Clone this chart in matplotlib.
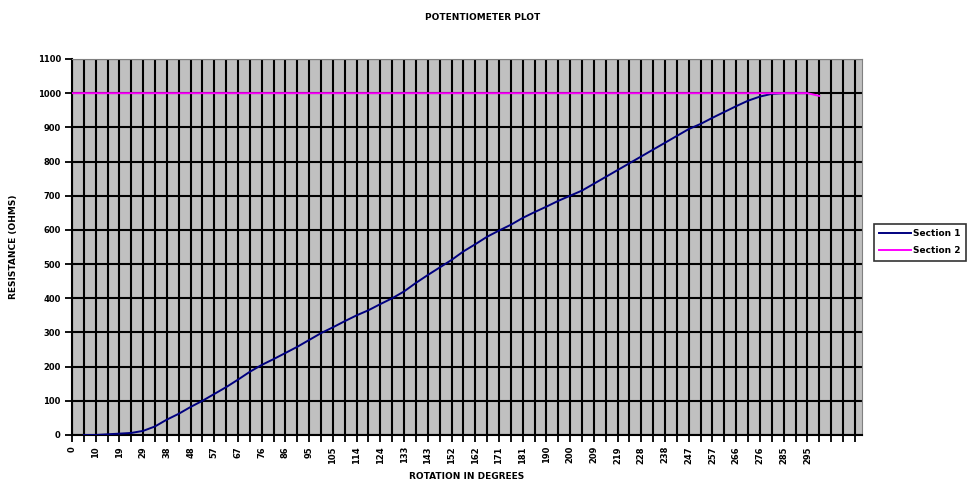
import matplotlib
matplotlib.use('Agg')
import matplotlib.pyplot as plt

# category labels shown on every second tick (degrees)
tick_labels = ['0', '10', '19', '29', '38', '48', '57', '67', '76', '86', '95',
               '105', '114', '124', '133', '143', '152', '162', '171', '181',
               '190', '200', '209', '219', '228', '238', '247', '257', '266',
               '276', '285', '295']
n_categories = 67

# Section 1 starts at category 1
section1 = [0, 0, 2, 4, 6, 12, 25, 45, 62, 82,
            100, 120, 140, 162, 185, 205, 222, 240, 258, 278,
            298, 315, 333, 350, 365, 383, 400, 420, 445, 468,
            490, 512, 537, 558, 580, 598, 615, 635, 652, 668,
            685, 700, 715, 735, 755, 775, 795, 815, 835, 855,
            875, 895, 910, 928, 945, 962, 978, 990, 998, 1000,
            1000, 1000]
# Section 2 starts at category 0
section2 = [1000] * 63 + [992]

x1 = list(range(1, 1 + len(section1)))
x2 = list(range(len(section2)))

fig = plt.figure(figsize=(9.71, 4.87), dpi=100)
ax = fig.add_axes([0.0741, 0.1068, 0.8136, 0.7721])
ax.set_facecolor('#C0C0C0')

ax.plot(x1, section1, color='#000080', lw=1.4, label='Section 1', zorder=3)
ax.plot(x2, section2, color='#FF00FF', lw=1.4, label='Section 2', zorder=3)

ax.set_xlim(0, 66.6)
ax.set_ylim(0, 1100)
ax.set_xticks(range(n_categories))
labels = []
for i in range(n_categories):
    if i % 2 == 0 and i // 2 < len(tick_labels):
        labels.append(tick_labels[i // 2])
    else:
        labels.append('')
ax.set_xticklabels(labels, rotation=90, fontsize=6, fontweight='bold')
ax.set_yticks(range(0, 1101, 100))
ax.set_yticklabels([str(v) for v in range(0, 1101, 100)], fontsize=6, fontweight='bold')
ax.tick_params(axis='both', direction='out', length=5, width=1.3, color='black', pad=3)

ax.grid(True, color='black', lw=1.5)
ax.set_axisbelow(True)
for s in ['left', 'bottom']:
    ax.spines[s].set_color('black')
    ax.spines[s].set_linewidth(1.5)
for s in ['top', 'right']:
    ax.spines[s].set_color('#808080')
    ax.spines[s].set_linewidth(0.8)

ax.set_xlabel('ROTATION IN DEGREES', fontsize=6.5, fontweight='bold', labelpad=6)
ax.set_ylabel('RESISTANCE (OHMS)', fontsize=6.5, fontweight='bold', labelpad=14)
fig.text(0.497, 0.965, 'POTENTIOMETER PLOT', ha='center', va='center',
         fontsize=6.5, fontweight='bold')

leg = fig.legend(loc='center left', bbox_to_anchor=(0.895, 0.503),
                 fontsize=6.5, frameon=True, fancybox=False, handlelength=3.5,
                 borderpad=0.6, labelspacing=0.9, handletextpad=0.3,
                 prop={'weight': 'bold', 'size': 6.5})
leg.get_frame().set_edgecolor('black')
leg.get_frame().set_linewidth(1.2)

fig.savefig('out.png', dpi=100)
